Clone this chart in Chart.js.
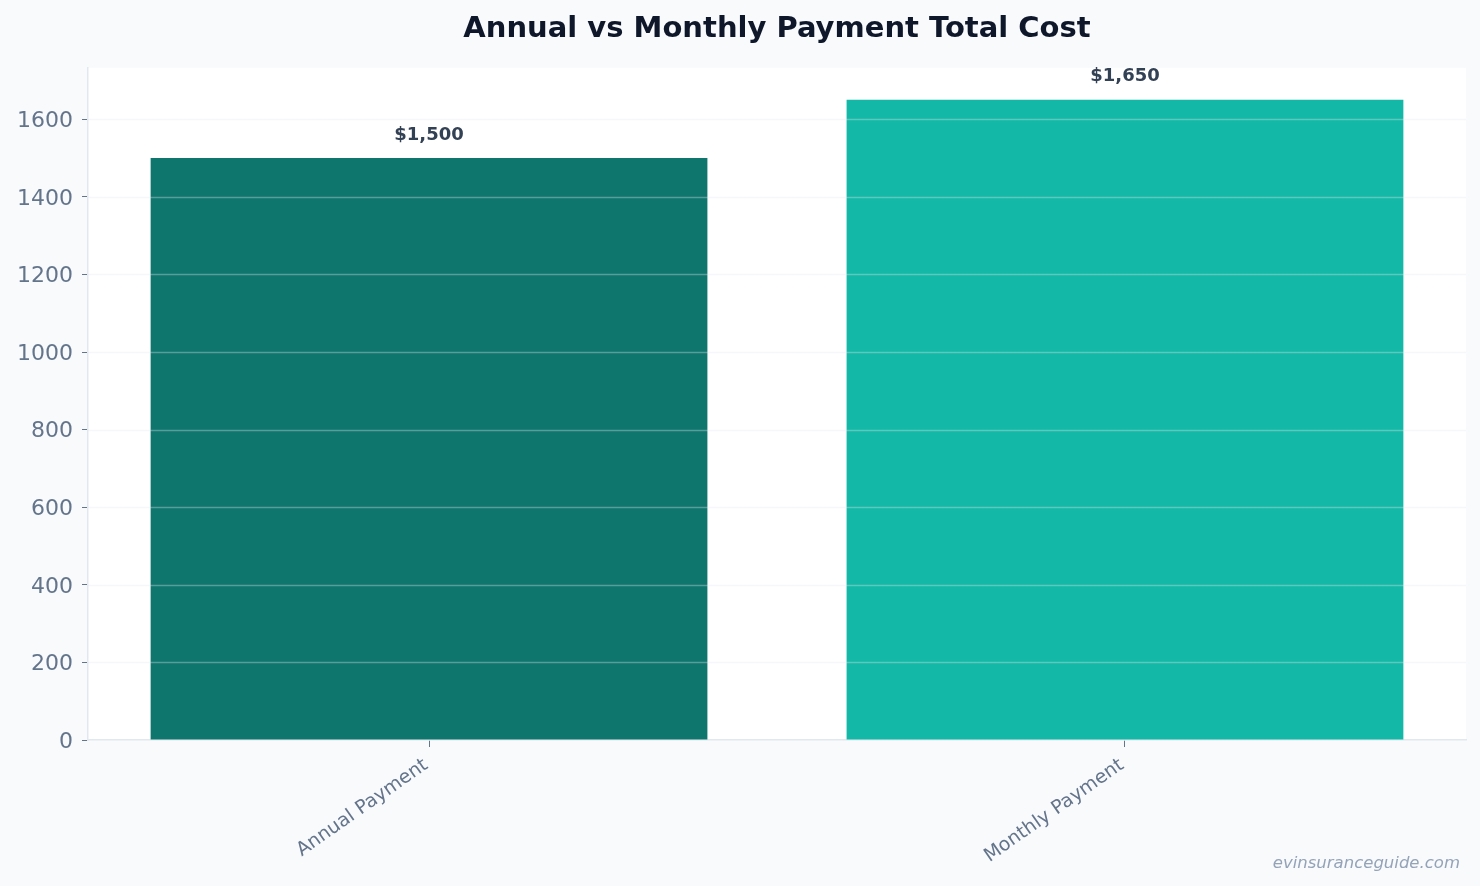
<!DOCTYPE html>
<html>
<head>
<meta charset="utf-8">
<script src="https://cdn.jsdelivr.net/npm/chart.js@4.4.1/dist/chart.umd.min.js"></script>
<style>
  html, body { margin: 0; padding: 0; background: #f8fafc; }
  #wrap { width: 1480px; height: 886px; position: relative; }
</style>
</head>
<body>
<div id="wrap"><canvas id="c" width="1480" height="886"></canvas></div>
<script>
const categories = ["Annual Payment", "Monthly Payment"];
const totalCost = [1500, 1650];
const barColors = ["#0f766e", "#14b8a6"];
const valueLabels = ["$1,500", "$1,650"];
const yMax = 1732.5;
const yStep = 200;
const titleText = "Annual vs Monthly Payment Total Cost";
const watermarkText = "evinsuranceguide.com";

const FONT = "'DejaVu Sans', sans-serif";

const bgPlugin = {
  id: 'bg',
  beforeDraw(chart) {
    const {ctx, chartArea: a} = chart;
    ctx.save();
    ctx.fillStyle = '#f8fafc';
    ctx.fillRect(0, 0, chart.width, chart.height);
    ctx.fillStyle = '#ffffff';
    ctx.fillRect(a.left, a.top, a.right - a.left, a.bottom - a.top);
    ctx.restore();
  }
};

const overlayPlugin = {
  id: 'overlay',
  afterDatasetsDraw(chart) {
    const {ctx, chartArea: a, scales} = chart;
    const y = scales.y;
    ctx.save();
    ctx.strokeStyle = 'rgba(226,232,240,0.35)';
    ctx.lineWidth = 1.5;
    y.ticks.forEach(t => {
      if (t.value === 0) return;
      const py = Math.round(y.getPixelForValue(t.value)) + 0.5;
      ctx.beginPath();
      ctx.moveTo(a.left, py);
      ctx.lineTo(a.right, py);
      ctx.stroke();
    });
    const meta = chart.getDatasetMeta(0);
    ctx.fillStyle = '#334155';
    ctx.font = "bold 18px " + FONT;
    ctx.textAlign = 'center';
    ctx.textBaseline = 'middle';
    meta.data.forEach((bar, i) => {
      ctx.fillText(valueLabels[i], bar.x, bar.y - 23);
    });
    ctx.restore();
  },
  afterDraw(chart) {
    const {ctx} = chart;
    ctx.save();
    ctx.fillStyle = '#94a3b8';
    ctx.font = "italic 16.5px " + FONT;
    ctx.textAlign = 'right';
    ctx.textBaseline = 'alphabetic';
    ctx.fillText(watermarkText, 1460, 868);
    ctx.restore();
  }
};

new Chart(document.getElementById('c'), {
  type: 'bar',
  data: {
    datasets: [{
      data: totalCost.map((v, i) => ({ x: i, y: v })),
      backgroundColor: barColors,
      borderWidth: 0,
      barPercentage: 0.8,
      categoryPercentage: 1.0
    }]
  },
  options: {
    responsive: false,
    animation: false,
    devicePixelRatio: 1,
    layout: { padding: { left: 0, right: 14, top: 0, bottom: 0 } },
    plugins: {
      legend: { display: false },
      tooltip: { enabled: false },
      title: {
        display: true,
        text: titleText,
        fullSize: false,
        color: '#0f172a',
        font: { family: FONT, size: 29, weight: 'bold' },
        padding: { top: 12, bottom: 21 }
      }
    },
    scales: {
      x: {
        type: 'linear',
        min: -0.49,
        max: categories.length - 1 + 0.49,
        offset: false,
        afterBuildTicks(s) { s.ticks = categories.map((_, i) => ({ value: i })); },
        grid: {
          offset: false,
          drawOnChartArea: false,
          color: '#64748b',
          tickColor: '#64748b',
          tickLength: 7
        },
        border: { display: true, color: '#e2e8f0', width: 1.5 },
        ticks: {
          autoSkip: false,
          color: '#64748b',
          font: { family: FONT, size: 19 },
          minRotation: 35,
          maxRotation: 35,
          padding: 7,
          labelOffset: -3,
          callback: (v) => categories[Math.round(v)]
        },
        afterFit(s) { s.height = 146; }
      },
      y: {
        min: 0,
        max: yMax,
        grid: {
          drawOnChartArea: false,
          tickColor: '#64748b',
          tickLength: 6
        },
        border: { display: true, color: '#e2e8f0', width: 1.5 },
        ticks: {
          stepSize: yStep,
          includeBounds: false,
          color: '#64748b',
          font: { family: FONT, size: 22 },
          padding: 9,
          labelOffset: 2,
          callback: (v) => String(v)
        },
        afterFit(s) { s.width = 88; }
      }
    }
  },
  plugins: [bgPlugin, overlayPlugin]
});
</script>
</body>
</html>
